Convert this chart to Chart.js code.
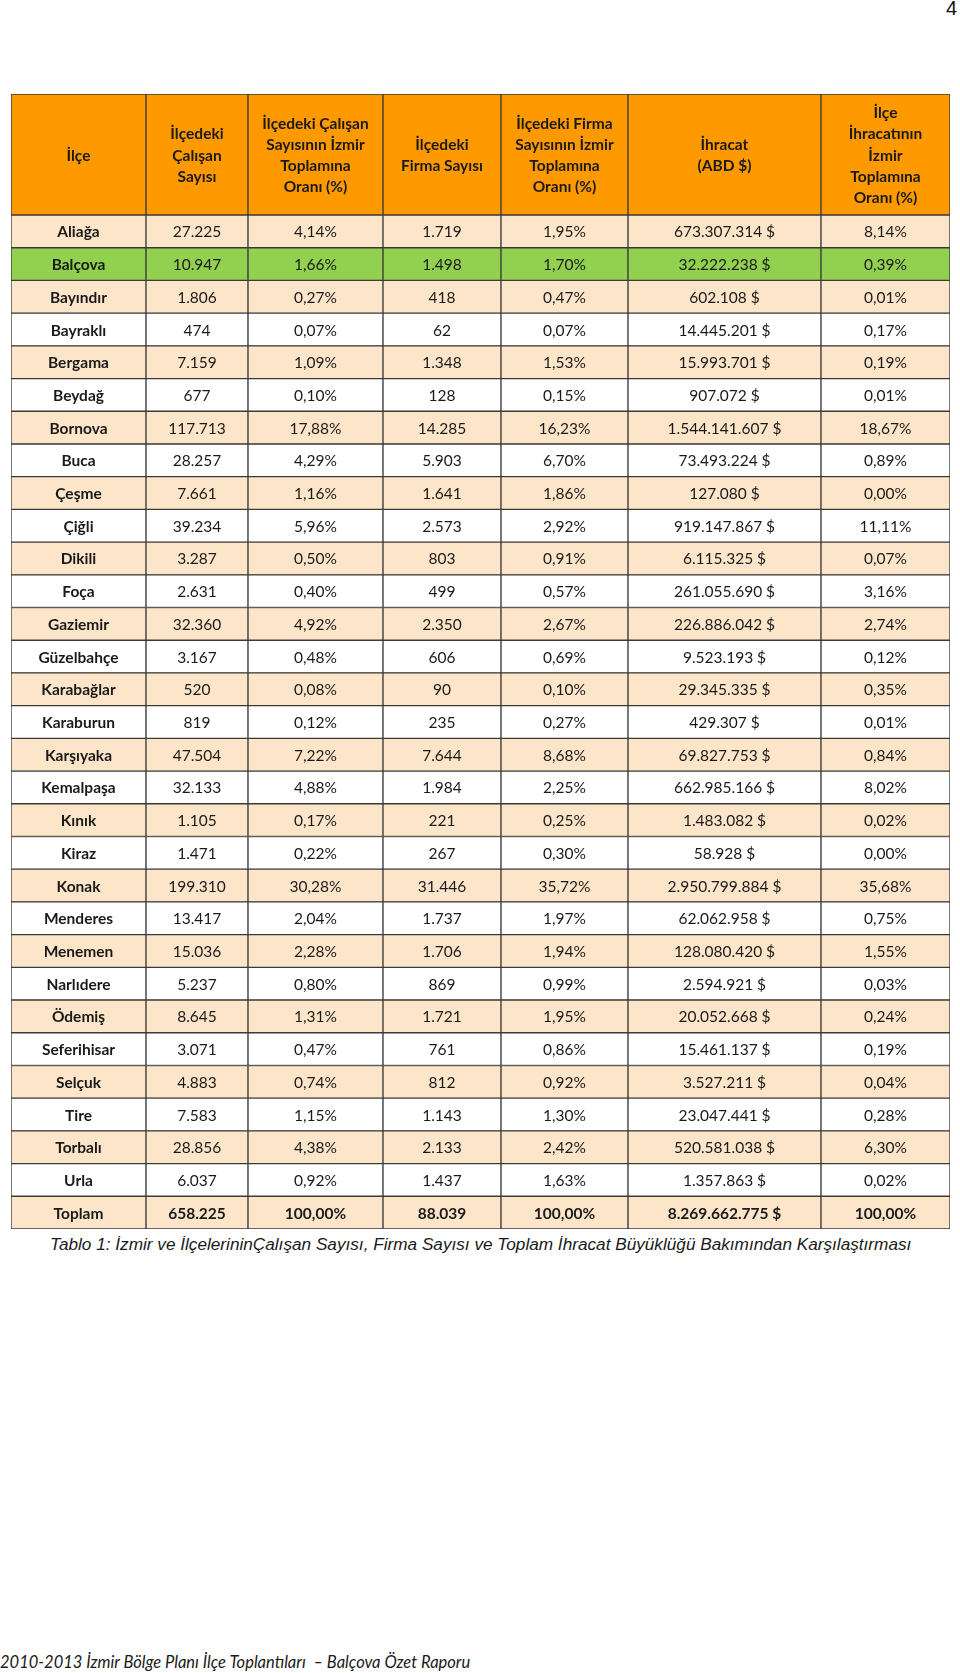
<!DOCTYPE html>
<html lang="tr">
<head>
<meta charset="utf-8">
<title>Tablo 1</title>
<script src="https://cdn.jsdelivr.net/npm/chart.js@4.4.1/dist/chart.umd.min.js"></script>
<style>
  body { margin: 0; background: #fff; width: 960px; height: 1673px; position: relative; overflow: hidden; }
  #table { position: absolute; left: 0; top: 92px; }
  .pageno { position: absolute; right: 3px; top: -3px; font: 20px "Liberation Sans", Arial, sans-serif; color: #111; }
  .caption { position: absolute; left: 50px; top: 1234px; font: italic 17.2px "Liberation Sans", Arial, sans-serif; color: #1a1a1a; white-space: nowrap; }
  .footer { position: absolute; left: 0; top: 1652px; font: italic 16.5px Lato, sans-serif; color: #1a1a1a; white-space: nowrap; }
</style>
</head>
<body>
<div class="pageno">4</div>
<canvas id="table" width="960" height="1139"></canvas>
<div class="caption">Tablo 1: İzmir ve İlçelerininÇalışan Sayısı, Firma Sayısı ve Toplam İhracat Büyüklüğü Bakımından Karşılaştırması</div>
<div class="footer">2010-2013 İzmir Bölge Planı İlçe Toplantıları &nbsp;– Balçova Özet Raporu</div>

<script>
// column headers (one entry per line)
const headers = [
  ['İlçe'],
  ['İlçedeki', 'Çalışan', 'Sayısı'],
  ['İlçedeki Çalışan', 'Sayısının İzmir', 'Toplamına', 'Oranı (%)'],
  ['İlçedeki', 'Firma Sayısı'],
  ['İlçedeki Firma', 'Sayısının İzmir', 'Toplamına', 'Oranı (%)'],
  ['İhracat', '(ABD $)'],
  ['İlçe', 'İhracatının', 'İzmir', 'Toplamına', 'Oranı (%)']
];

const districts = ['Aliağa', 'Balçova', 'Bayındır', 'Bayraklı', 'Bergama', 'Beydağ', 'Bornova', 'Buca', 'Çeşme', 'Çiğli',
  'Dikili', 'Foça', 'Gaziemir', 'Güzelbahçe', 'Karabağlar', 'Karaburun', 'Karşıyaka', 'Kemalpaşa', 'Kınık', 'Kiraz',
  'Konak', 'Menderes', 'Menemen', 'Narlıdere', 'Ödemiş', 'Seferihisar', 'Selçuk', 'Tire', 'Torbalı', 'Urla'];

const employees = [27225, 10947, 1806, 474, 7159, 677, 117713, 28257, 7661, 39234,
  3287, 2631, 32360, 3167, 520, 819, 47504, 32133, 1105, 1471,
  199310, 13417, 15036, 5237, 8645, 3071, 4883, 7583, 28856, 6037];
const employeeShare = [4.14, 1.66, 0.27, 0.07, 1.09, 0.10, 17.88, 4.29, 1.16, 5.96,
  0.50, 0.40, 4.92, 0.48, 0.08, 0.12, 7.22, 4.88, 0.17, 0.22,
  30.28, 2.04, 2.28, 0.80, 1.31, 0.47, 0.74, 1.15, 4.38, 0.92];
const firms = [1719, 1498, 418, 62, 1348, 128, 14285, 5903, 1641, 2573,
  803, 499, 2350, 606, 90, 235, 7644, 1984, 221, 267,
  31446, 1737, 1706, 869, 1721, 761, 812, 1143, 2133, 1437];
const firmShare = [1.95, 1.70, 0.47, 0.07, 1.53, 0.15, 16.23, 6.70, 1.86, 2.92,
  0.91, 0.57, 2.67, 0.69, 0.10, 0.27, 8.68, 2.25, 0.25, 0.30,
  35.72, 1.97, 1.94, 0.99, 1.95, 0.86, 0.92, 1.30, 2.42, 1.63];
const exportsUsd = [673307314, 32222238, 602108, 14445201, 15993701, 907072, 1544141607, 73493224, 127080, 919147867,
  6115325, 261055690, 226886042, 9523193, 29345335, 429307, 69827753, 662985166, 1483082, 58928,
  2950799884, 62062958, 128080420, 2594921, 20052668, 15461137, 3527211, 23047441, 520581038, 1357863];
const exportShare = [8.14, 0.39, 0.01, 0.17, 0.19, 0.01, 18.67, 0.89, 0.00, 11.11,
  0.07, 3.16, 2.74, 0.12, 0.35, 0.01, 0.84, 8.02, 0.02, 0.00,
  35.68, 0.75, 1.55, 0.03, 0.24, 0.19, 0.04, 0.28, 6.30, 0.02];

const totalLabel = 'Toplam';
const totals = [658225, 100.00, 88039, 100.00, 8269662775, 100.00];

const highlighted = 'Balçova';

// layout: column edges (px from table left) and header height in row units
const colEdges = [0, 135, 237, 372, 490, 617, 810, 939];
const HEADER_ROWS = 3.7;

const fmtInt = n => String(n).replace(/\B(?=(\d{3})+(?!\d))/g, '.');
const fmtPct = n => n.toFixed(2).replace('.', ',') + '%';
const fmtUsd = n => fmtInt(n) + ' $';

const ORANGE = '#fe9900';
const PEACH = '#fde5c9';
const GREEN = '#92d050';
const WHITE = '#ffffff';
const LINE = '#3a3a3a';
const FONT = 'Lato, "Noto Sans", sans-serif';

// build rows of text
const rows = districts.map((d, i) => [d, fmtInt(employees[i]), fmtPct(employeeShare[i]), fmtInt(firms[i]),
  fmtPct(firmShare[i]), fmtUsd(exportsUsd[i]), fmtPct(exportShare[i])]);
rows.push([totalLabel, fmtInt(totals[0]), fmtPct(totals[1]), fmtInt(totals[2]), fmtPct(totals[3]), fmtUsd(totals[4]), fmtPct(totals[5])]);

const headerCells = headers.map((h, c) => ({ x: [colEdges[c], colEdges[c + 1]], y: HEADER_ROWS / 2, lines: h }));
const bodyCells = [];
const bodyColors = [];
rows.forEach((row, r) => {
  const isTotal = r === rows.length - 1;
  const color = row[0] === highlighted ? GREEN : (r % 2 === 0 ? PEACH : WHITE);
  row.forEach((txt, c) => {
    bodyCells.push({ x: [colEdges[c], colEdges[c + 1]], y: HEADER_ROWS + r + 0.5, lines: [txt], bold: c === 0 || isTotal });
    bodyColors.push(color);
  });
});

const unitPx = ctx => {
  const y = ctx.chart.scales.y;
  return y ? Math.abs(y.getPixelForValue(1) - y.getPixelForValue(0)) : 30;
};

// draw cell texts at the centre of each bar
const cellText = {
  id: 'cellText',
  afterDatasetsDraw(chart) {
    const c = chart.ctx;
    c.save();
    c.textAlign = 'center';
    c.textBaseline = 'middle';
    c.fillStyle = '#1a1a1a';
    chart.data.datasets.forEach((ds, di) => {
      const meta = chart.getDatasetMeta(di);
      meta.data.forEach((el, i) => {
        const cell = ds.data[i];
        const p = el.getCenterPoint();
        const lh = ds.lineHeight;
        c.font = (cell.bold || ds.bold ? 'bold ' : '') + ds.fontSize + 'px ' + FONT;
        const y0 = p.y - (cell.lines.length - 1) * lh / 2;
        cell.lines.forEach((t, k) => c.fillText(t, p.x, y0 + k * lh + 1));
      });
    });
    c.restore();
  }
};

new Chart(document.getElementById('table'), {
  type: 'bar',
  data: {
    datasets: [
      {
        data: headerCells, backgroundColor: ORANGE, borderColor: LINE, borderWidth: 1, borderSkipped: false,
        grouped: false, barThickness: ctx => unitPx(ctx) * HEADER_ROWS, bold: true, fontSize: 15.5, lineHeight: 21.3
      },
      {
        data: bodyCells, backgroundColor: bodyColors, borderColor: LINE, borderWidth: 1, borderSkipped: false,
        grouped: false, barThickness: unitPx, fontSize: 15.5, lineHeight: 20
      }
    ]
  },
  options: {
    indexAxis: 'y',
    responsive: false,
    animation: false,
    events: [],
    layout: { padding: { left: 11, right: 10, top: 2, bottom: 2 } },
    scales: {
      x: { type: 'linear', min: colEdges[0], max: colEdges[colEdges.length - 1], display: false },
      y: { type: 'linear', min: 0, max: HEADER_ROWS + rows.length, reverse: true, offset: false, display: false }
    },
    plugins: { legend: { display: false }, tooltip: { enabled: false } }
  },
  plugins: [cellText]
});
</script>
</body>
</html>
